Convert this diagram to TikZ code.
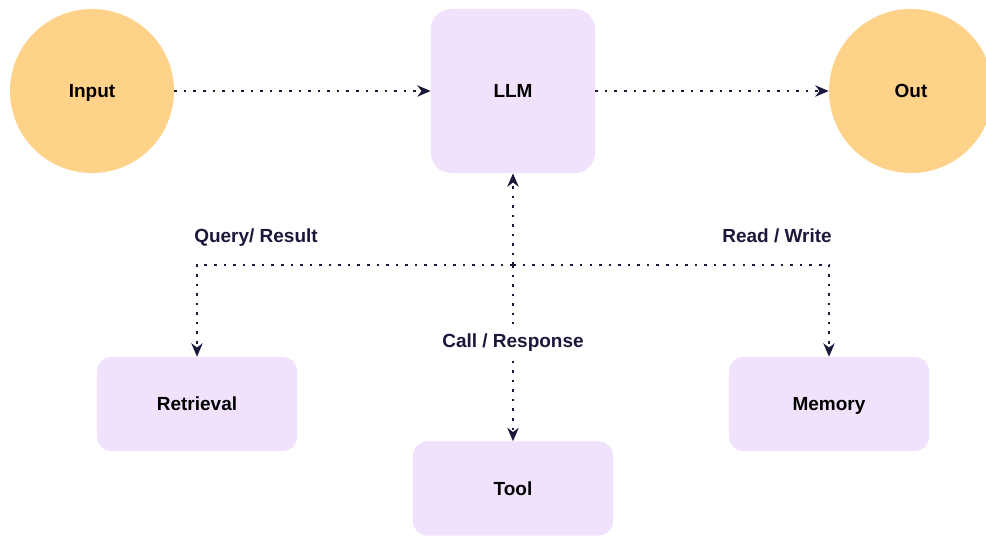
\documentclass[tikz,border=0pt]{standalone}
\usepackage{fontspec}
\setmainfont{Liberation Sans}
\usetikzlibrary{arrows.meta}
\definecolor{peach}{RGB}{255,210,138}
\definecolor{lilac}{RGB}{240,225,252}
\definecolor{ink}{RGB}{26,24,58}
\begin{document}
\begin{tikzpicture}[x=0.025cm,y=-0.025cm,
    font=\fontsize{13.5}{16}\selectfont\bfseries,
    every node/.style={text height=9.7pt,text depth=0pt},
    endpoint/.style={circle,fill=peach,minimum size=4.1cm,inner sep=0pt},
    block/.style={rectangle,rounded corners=0.35cm,fill=lilac,minimum width=5cm,minimum height=2.35cm,inner sep=0pt},
    flow/.style={draw=ink,line width=1.8pt,dash pattern=on 1.8pt off 5pt,-{Stealth[length=9.5pt,width=8pt,inset=3pt]}},
    tag/.style={text=ink}]
  \useasboundingbox (0,0) rectangle (986,535);

  \node[endpoint] (inp) at (92,91) {Input};
  \node[endpoint] (out) at (911,91) {Out};
  \node[block,rounded corners=0.5cm,minimum width=4.1cm,minimum height=4.1cm] (llm) at (513,91) {LLM};
  \node[block] (ret) at (197,404) {Retrieval};
  \node[block] (mem) at (829,404) {Memory};
  \node[block] (tool) at (513,488.5) {Tool};
  \coordinate (hub) at (513,265);

  \draw[flow] (inp) -- (llm);
  \draw[flow] (llm) -- (out);
  \draw[flow] (hub) -- (llm.south);
  \draw[flow] (hub) -| (ret.north);
  \draw[flow] (hub) -| (mem.north);
  \draw[flow] (hub) -- node[tag,fill=white,inner sep=7pt,pos=0.43] {Call / Response} (tool.north);

  \node[tag] at (256,236) {Query/ Result};
  \node[tag] at (777,236) {Read / Write};
\end{tikzpicture}
\end{document}
